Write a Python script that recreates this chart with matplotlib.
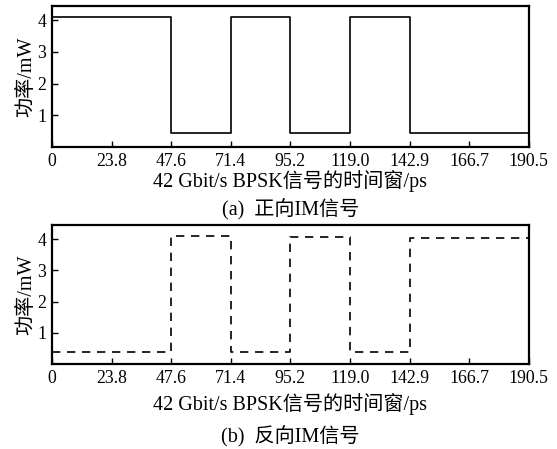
import matplotlib
matplotlib.use('Agg')
import matplotlib.pyplot as plt

plt.rcParams['font.family'] = ['Liberation Serif', 'Noto Sans CJK SC']

# data
edges = [0, 47.6, 71.4, 95.2, 119.0, 142.9, 190.5]
forward_power = [4.1, 0.43, 4.1, 0.43, 4.1, 0.43]
reverse_power = [0.4, 4.1, 0.4, 4.05, 0.4, 4.03]
x_ticks = [0, 23.8, 47.6, 71.4, 95.2, 119.0, 142.9, 166.7, 190.5]
x_tick_labels = ['0', '23.8', '47.6', '71.4', '95.2', '119.0', '142.9', '166.7', '190.5']
y_ticks = [1, 2, 3, 4]
xlabel = '42 Gbit/s BPSK信号的时间窗/ps'
ylabel = '功率/mW'
captions = ['(a)  正向IM信号', '(b)  反向IM信号']

fig = plt.figure(figsize=(5.57, 4.49), dpi=100)
ax1 = fig.add_axes([0.0934, 0.6726, 0.856, 0.314])
ax2 = fig.add_axes([0.0934, 0.1893, 0.856, 0.3096])


def step_xy(values):
    xs, ys = [], []
    for i, v in enumerate(values):
        xs += [edges[i], edges[i + 1]]
        ys += [v, v]
    return xs, ys


panels = [(ax1, forward_power, '-', captions[0], -0.241, -0.447),
          (ax2, reverse_power, (0, (5, 4)), captions[1], -0.288, -0.525)]

for ax, vals, ls, cap, xl_y, cap_y in panels:
    xs, ys = step_xy(vals)
    ax.plot(xs, ys, color='black', linewidth=1.2, linestyle=ls)
    ax.set_xlim(0, 190.5)
    ax.set_ylim(0, 4.45)
    ax.set_xticks(x_ticks)
    ax.set_xticklabels(x_tick_labels)
    ax.set_yticks(y_ticks)
    ax.tick_params(direction='in', length=4, width=1, labelsize=12.8, pad=4)
    for s in ax.spines.values():
        s.set_linewidth(1.6)
    ax.set_xlabel(xlabel, fontsize=14.5)
    ax.xaxis.label.set_va('center')
    ax.xaxis.set_label_coords(0.5, xl_y)
    ax.set_ylabel(ylabel, fontsize=14.5)
    ax.yaxis.label.set_va('center')
    ax.yaxis.set_label_coords(-0.052, 0.5)
    ax.text(0.5, cap_y, cap, transform=ax.transAxes, ha='center', va='center',
            fontsize=14.5)

fig.savefig('out.png', dpi=100)
